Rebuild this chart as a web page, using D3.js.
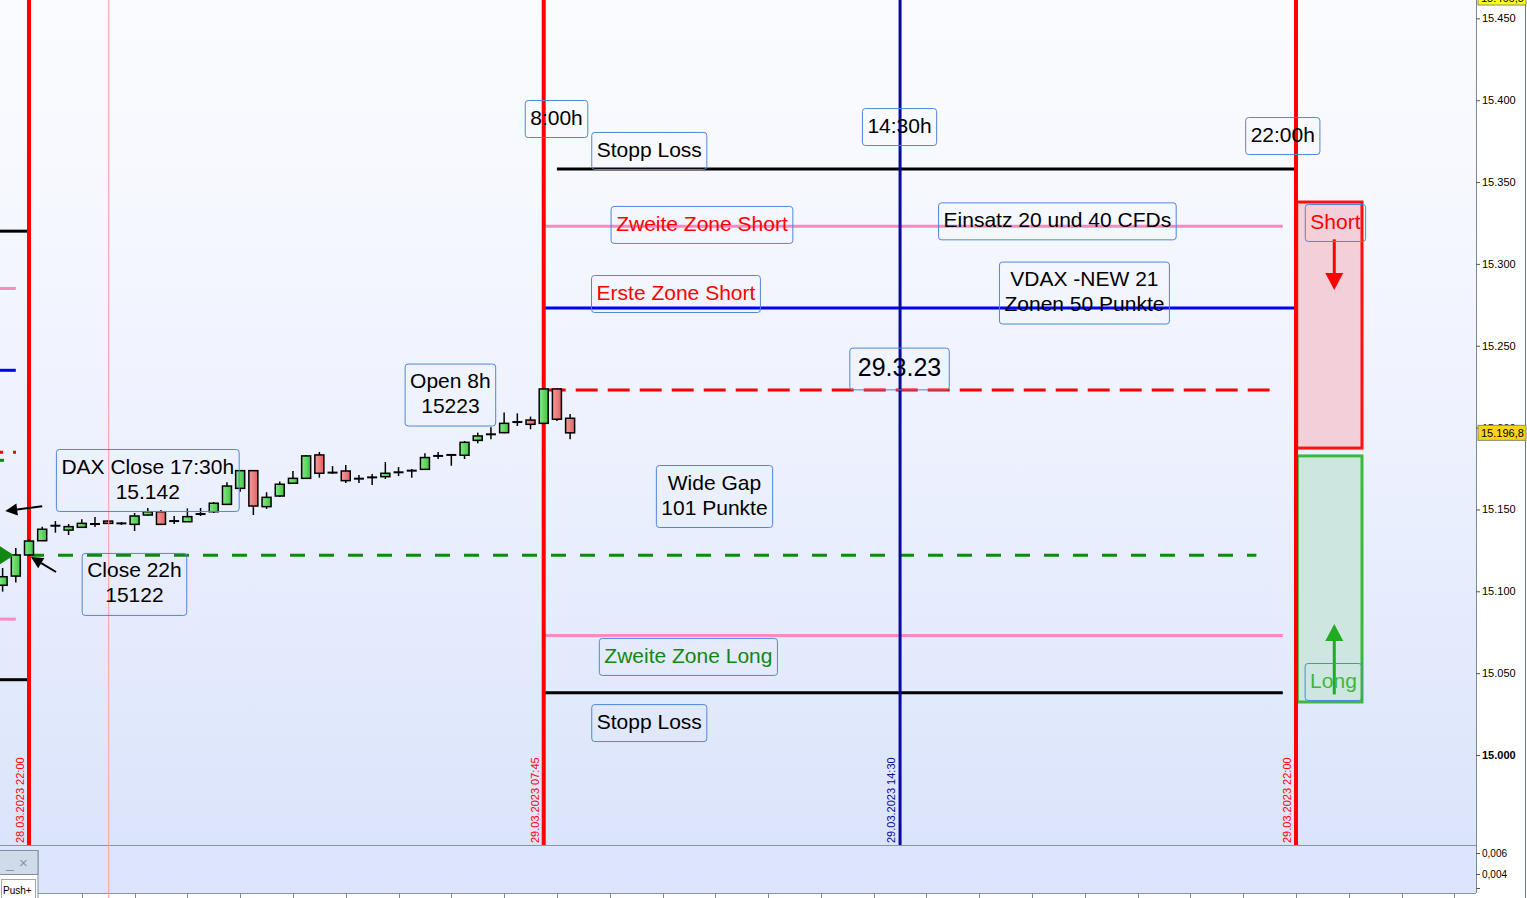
<!DOCTYPE html>
<html><head><meta charset="utf-8">
<script src="https://cdn.jsdelivr.net/npm/d3@7/dist/d3.min.js"></script>
<style>body{margin:0;background:#fff}svg{display:block}text{font-family:Arial,"Liberation Sans",sans-serif}</style>
</head><body><svg id="c" width="1527" height="898"></svg>
<script>
// ---- data ----
// bar index: 0 = 28.03.2023 22:00, 15-minute bars
const barIndex = [-2,-1,0,1,2,3,4,5,6,7,8,9,10,11,12,13,14,15,16,17,18,19,20,21,22,23,24,25,26,27,28,29,30,31,32,33,34,35,36,37,38,39,40,41];
const opens  = [103.7,109.3,122.2,130.9,139.9,137.4,139.1,141.1,142.9,141.5,140.9,146.6,148.6,142.9,142.5,147.2,148.6,153.1,162.9,173.7,151.7,158.2,166.0,169.0,183.3,172.5,173.5,168.8,169.6,170.0,172.7,173.7,174.5,182.7,183.3,183.1,192.2,195.3,196.9,203.4,204.6,202.6,223.6,205.7].map(d=>15000+d);
const highs  = [114.2,126.5,132.0,139.5,142.9,141.1,144.0,145.4,143.6,142.3,147.8,150.9,149.7,146.0,150.7,150.9,154.5,166.6,174.1,174.1,160.5,167.0,173.5,183.3,185.1,176.5,177.2,171.0,171.7,179.0,175.9,174.7,184.3,185.1,183.9,191.8,196.9,200.2,209.3,208.7,206.7,223.6,223.6,208.3].map(d=>15000+d);
const lows   = [99.8,105.3,121.6,130.7,135.8,134.4,138.7,139.3,141.1,140.5,136.8,146.3,140.5,141.1,142.3,146.0,147.8,152.7,160.8,146.6,150.3,157.6,165.5,168.6,169.4,171.7,166.2,166.2,164.9,168.6,170.4,169.4,174.1,180.8,176.7,180.8,190.4,192.9,196.5,201.0,199.0,202.2,204.0,192.9].map(d=>15000+d);
const closes = [108.9,122.2,130.7,137.9,140.2,139.5,141.5,141.1,141.5,141.5,146.0,148.6,140.9,142.9,145.6,147.2,153.8,164.3,173.7,152.1,157.4,165.4,169.0,182.7,172.1,172.5,167.6,168.8,169.6,172.1,172.7,173.7,181.7,182.7,183.3,191.0,194.9,196.5,202.6,203.4,202.0,223.6,205.1,196.8].map(d=>15000+d);

const priceTicks = [15000,15050,15100,15150,15200,15250,15300,15350,15400,15450];
const lastPrice = 15196.8;
const topPrice = 15466.5;

// vertical time markers
const vLines = [
  {i:0,  label:"28.03.2023 22:00", color:"#ff0000"},
  {i:39, label:"29.03.2023 07:45", color:"#ff0000"},
  {i:66, label:"29.03.2023 14:30", color:"#0a0a9a"},
  {i:96, label:"29.03.2023 22:00", color:"#ff0000"}
];
const cursorIndex = 6;

// horizontal levels
const hLevels = [
  {v:15358, from:40, to:96, color:"#000000", dash:null},
  {v:15323, from:39, to:95, color:"#ff88c0", dash:null},
  {v:15273, from:39, to:96, color:"#0000ff", dash:null},
  {v:15223, from:39, to:94, color:"#ff0000", dash:"22,10"},
  {v:15122, from:0,  to:93, color:"#118811", dash:"15,14"},
  {v:15073, from:39, to:95, color:"#ff88c0", dash:null},
  {v:15038, from:39, to:95, color:"#000000", dash:null}
];
// previous-day levels at the left edge
const leftLevels = [
  {v:15320, to:0,    color:"#000000"},
  {v:15285, to:-1,   color:"#ff88c0"},
  {v:15235, to:-1,   color:"#0000ff"},
  {v:15083, to:-1,   color:"#ff88c0"},
  {v:15046, to:0,    color:"#000000"}
];

// zone boxes
const zoneBoxes = [
  {i0:96.05, i1:101, v0:15187.5, v1:15337.8, stroke:"#ff1010", fill:"#f2cfd9"},
  {i0:96.1,  i1:101, v0:15032.4, v1:15182.7, stroke:"#3cb83c", fill:"#cde7e0"}
];
const zoneArrows = [
  {i:98.9, v0:15315, v1:15284, color:"#ff0000"},
  {i:98.9, v0:15037, v1:15080, color:"#22aa22"}
];

// annotation text boxes (anchored to bar index / price)
const notes = [
  {lines:["8:00h"], i:39.97, v:15388.5, color:"#000"},
  {lines:["14:30h"], i:65.96, v:15383.6, color:"#000"},
  {lines:["22:00h"], i:95.0, v:15378.1, color:"#000"},
  {lines:["Stopp Loss"], i:47.0, v:15369.0, color:"#000"},
  {lines:["Zweite Zone Short"], i:50.99, v:15323.8, color:"#ff0000"},
  {lines:["Einsatz 20 und 40 CFDs"], i:77.92, v:15326.0, color:"#000"},
  {lines:["Erste Zone Short"], i:49.02, v:15281.6, color:"#ff0000"},
  {lines:["VDAX -NEW 21","Zonen 50 Punkte"], i:79.97, v:15282.2, color:"#000"},
  {lines:["29.3.23"], i:65.96, v:15235.8, color:"#000", size:25, padX:8},
  {lines:["Open 8h","15223"], i:31.93, v:15219.9, color:"#000"},
  {lines:["DAX Close 17:30h","15.142"], i:9.0, v:15167.7, color:"#000"},
  {lines:["Wide Gap","101 Punkte"], i:51.94, v:15157.9, color:"#000"},
  {lines:["Close 22h","15122"], i:7.99, v:15104.2, color:"#000"},
  {lines:["Zweite Zone Long"], i:49.96, v:15059.9, color:"#118811"},
  {lines:["Stopp Loss"], i:47.0, v:15019.5, color:"#000"},
  {lines:["Short"], i:98.99, v:15325.0, color:"#ff0000"},
  {lines:["Long"], i:98.84, v:15044.6, color:"#3cb83c"}
];
const arrows = [
  {i0:1.0, v0:15152, i1:-1.8, v1:15149},
  {i0:2.05, v0:15111.8, i1:0.15, v1:15121}
];
const lowerTicks = ["0,006","0,004"];

// ---- scales ----
const W=1527, H=898, plotR=1476, plotB=845, lowB=893;
const x = d3.scaleLinear().domain([0,96]).range([29,1296]);
const y = d3.scaleLinear().domain([15000,15450]).range([755,18.35]);
const fmt = d3.formatLocale({decimal:",", thousands:".", grouping:[3], currency:["",""]});
const f0 = fmt.format(",.0f"), f1 = fmt.format(",.1f");

const svg = d3.select("#c");
const defs = svg.append("defs");
const g1 = defs.append("linearGradient").attr("id","bg").attr("x1",0).attr("y1",0).attr("x2",0).attr("y2",1);
[[0,"#fafbff"],[0.18,"#f7f9fe"],[0.5,"#eef2fe"],[1,"#dbe4fb"]].forEach(s=>g1.append("stop").attr("offset",s[0]).attr("stop-color",s[1]));
const gg = defs.append("linearGradient").attr("id","gbody").attr("x1",0).attr("x2",1);
gg.append("stop").attr("offset",0).attr("stop-color","#8ae88a");gg.append("stop").attr("offset",1).attr("stop-color","#3fc63f");
const gr = defs.append("linearGradient").attr("id","rbody").attr("x1",0).attr("x2",1);
gr.append("stop").attr("offset",0).attr("stop-color","#f59a9a");gr.append("stop").attr("offset",1).attr("stop-color","#e06464");
defs.append("clipPath").attr("id","plotclip").append("rect").attr("x",0).attr("y",0).attr("width",plotR).attr("height",plotB);

svg.append("rect").attr("x",0).attr("y",0).attr("width",plotR).attr("height",plotB).attr("fill","url(#bg)");
svg.append("rect").attr("x",0).attr("y",plotB).attr("width",plotR).attr("height",lowB-plotB).attr("fill","#dce5fc");
svg.append("line").attr("x1",0).attr("x2",plotR).attr("y1",plotB+0.5).attr("y2",plotB+0.5).attr("stroke","#8796a6");
svg.append("line").attr("x1",0).attr("x2",plotR).attr("y1",lowB+0.5).attr("y2",lowB+0.5).attr("stroke","#8796a6");

const plot = svg.append("g").attr("clip-path","url(#plotclip)");

// cursor line
svg.append("line").attr("x1",x(cursorIndex)+0.5).attr("x2",x(cursorIndex)+0.5).attr("y1",0).attr("y2",H).attr("stroke","#ff9a9a").attr("stroke-width",1);

// horizontal levels
hLevels.forEach(l=>{
  plot.append("line").attr("x1",x(l.from)).attr("x2",x(l.to)).attr("y1",y(l.v)).attr("y2",y(l.v))
    .attr("stroke",l.color).attr("stroke-width",3).attr("stroke-dasharray",l.dash);
});
leftLevels.forEach(l=>{
  plot.append("line").attr("x1",0).attr("x2",x(l.to)).attr("y1",y(l.v)).attr("y2",y(l.v))
    .attr("stroke",l.color).attr("stroke-width",3);
});
// small remnants at left
plot.append("line").attr("x1",0).attr("x2",18).attr("y1",y(15185)).attr("y2",y(15185)).attr("stroke","#ff0000").attr("stroke-width",3).attr("stroke-dasharray","3,10");
plot.append("line").attr("x1",0).attr("x2",4).attr("y1",y(15180)).attr("y2",y(15180)).attr("stroke","#118811").attr("stroke-width",3);

// zone boxes
zoneBoxes.forEach(b=>{
  plot.append("rect").attr("x",x(b.i0)).attr("y",y(b.v1)).attr("width",x(b.i1)-x(b.i0)).attr("height",y(b.v0)-y(b.v1))
    .attr("fill",b.fill).attr("stroke",b.stroke).attr("stroke-width",3);
});
zoneArrows.forEach(a=>{
  const xa=x(a.i), ya0=y(a.v0), ya1=y(a.v1), dir = ya1>ya0?1:-1;
  plot.append("line").attr("x1",xa).attr("x2",xa).attr("y1",ya0).attr("y2",ya1-dir*16).attr("stroke",a.color).attr("stroke-width",3);
  plot.append("path").attr("d",`M${xa-9},${ya1-dir*17}L${xa+9},${ya1-dir*17}L${xa},${ya1}Z`).attr("fill",a.color);
});

// vertical lines
vLines.forEach(v=>{
  const xv=x(v.i);
  plot.append("line").attr("x1",xv).attr("x2",xv).attr("y1",0).attr("y2",plotB).attr("stroke",v.color).attr("stroke-width",v.color==="#ff0000"?4:3);
  svg.append("text").attr("transform",`translate(${xv-5},${plotB-2}) rotate(-90)`).attr("font-size",11).attr("fill",v.color).text(v.label);
});

// candles
const cw=9;
barIndex.forEach((bi,k)=>{
  const cx=x(bi), o=opens[k], c=closes[k], hi=highs[k], lo=lows[k];
  const gC = plot.append("g");
  gC.append("line").attr("x1",cx).attr("x2",cx).attr("y1",y(hi)).attr("y2",y(lo)).attr("stroke","#000").attr("stroke-width",1.5);
  const top=y(Math.max(o,c)), bot=y(Math.min(o,c));
  if (bot-top < 2) {
    gC.append("line").attr("x1",cx-cw/2-0.5).attr("x2",cx+cw/2+0.5).attr("y1",(top+bot)/2).attr("y2",(top+bot)/2).attr("stroke","#000").attr("stroke-width",2);
  } else {
    gC.append("rect").attr("x",cx-cw/2).attr("y",top).attr("width",cw).attr("height",bot-top)
      .attr("fill", c>=o?"url(#gbody)":"url(#rbody)").attr("stroke","#000").attr("stroke-width",1.5);
  }
});

// green close marker at left edge
plot.append("path").attr("d",`M0,${y(15122)-9}L14,${y(15122)}L0,${y(15122)+9}Z`).attr("fill","#118811");

// black arrows
arrows.forEach(a=>{
  const x0=x(a.i0), y0=y(a.v0), x1=x(a.i1), y1=y(a.v1);
  const ang=Math.atan2(y1-y0,x1-x0), L=12, Wd=6;
  const bx=x1-L*Math.cos(ang), by=y1-L*Math.sin(ang);
  plot.append("line").attr("x1",x0).attr("y1",y0).attr("x2",bx).attr("y2",by).attr("stroke","#000").attr("stroke-width",2);
  plot.append("path").attr("d",`M${x1},${y1}L${bx+Wd*Math.sin(ang)},${by-Wd*Math.cos(ang)}L${bx-Wd*Math.sin(ang)},${by+Wd*Math.cos(ang)}Z`).attr("fill","#000");
});

// annotation boxes
notes.forEach(n=>{
  const fs=n.size||21, lh=fs*1.19, padX=n.padX||5, padY=7;
  const gN = svg.append("g");
  const cx=x(n.i), cy=y(n.v);
  const t = gN.append("text").attr("font-size",fs).attr("fill",n.color).attr("text-anchor","middle");
  const nL=n.lines.length, h0=nL*lh;
  n.lines.forEach((s,j)=>t.append("tspan").attr("x",cx).attr("y",cy-h0/2+lh*j+fs*0.86).text(s));
  const bb=t.node().getBBox();
  const w=bb.width+2*padX, h=h0+2*padY-2;
  gN.insert("rect","text").attr("x",cx-w/2).attr("y",cy-h/2).attr("width",w).attr("height",h).attr("rx",3)
    .attr("fill","none").attr("stroke","#4f86dc").attr("stroke-width",1);
});

// right axis
svg.append("rect").attr("x",plotR).attr("y",0).attr("width",W-plotR).attr("height",H).attr("fill","#fff");
svg.append("line").attr("x1",plotR+0.5).attr("x2",plotR+0.5).attr("y1",0).attr("y2",lowB).attr("stroke","#7a8a9a");
svg.append("line").attr("x1",W-1.5).attr("x2",W-1.5).attr("y1",0).attr("y2",H).attr("stroke","#6a7a8a");
const ax = svg.append("g").attr("transform",`translate(${plotR},0)`)
  .call(d3.axisRight(y).tickValues(priceTicks).tickSize(4).tickPadding(2).tickFormat(f0));
ax.select(".domain").remove();
ax.selectAll("line").attr("stroke","#555");
ax.selectAll("text").attr("font-size",11).attr("fill","#000").attr("font-family","Arial, 'Liberation Sans', sans-serif")
  .attr("font-weight",d=>d===15000?"bold":"normal");

// price labels
function priceLabel(v, yy, fill){
  const gP=svg.append("g");
  gP.append("rect").attr("x",plotR+2).attr("y",yy-7.5).attr("width",48).attr("height",15).attr("fill",fill).attr("stroke","#8a8a6a");
  gP.append("text").attr("x",plotR+5).attr("y",yy+4).attr("font-size",11).attr("fill","#000").text(f1(v));
}
priceLabel(topPrice, -2.5, "#ffff20");
priceLabel(lastPrice, y(lastPrice), "#ffd21a");

// lower panel axis
const ly = d3.scalePoint().domain(lowerTicks).range([853,874]);
const lax = svg.append("g").attr("transform",`translate(${plotR},0)`).call(d3.axisRight(ly).tickSize(4).tickPadding(2));
lax.select(".domain").remove();
lax.selectAll("line").attr("stroke","#555");
lax.selectAll("text").attr("font-size",10).attr("fill","#000");
svg.append("line").attr("x1",plotR).attr("x2",plotR+4).attr("y1",888.5).attr("y2",888.5).attr("stroke","#555");

// bottom ticks every hour
const hourTicks = d3.range(-4, 112, 4).filter(i=>x(i)>40 && x(i)<plotR);
svg.selectAll(".bt").data(hourTicks).join("line").attr("x1",d=>Math.round(x(d))+0.5).attr("x2",d=>Math.round(x(d))+0.5)
  .attr("y1",lowB).attr("y2",H).attr("stroke","#7a8a9a");

// small panel widget bottom-left
const wg = svg.append("g");
wg.append("rect").attr("x",-2).attr("y",850.5).attr("width",40).attr("height",50).attr("fill","#fff").attr("stroke","#7f8f9f");
wg.append("rect").attr("x",-2).attr("y",850.5).attr("width",40).attr("height",24).attr("fill","#cfdbe8").attr("stroke","#7f8f9f");
wg.append("text").attr("x",6).attr("y",868).attr("font-size",14).attr("fill","#8a97a3").text("_");
wg.append("text").attr("x",19).attr("y",868).attr("font-size",15).attr("fill","#8a97a3").text("×");
wg.append("rect").attr("x",1.5).attr("y",879.5).attr("width",34).attr("height",20).attr("fill","#fff").attr("stroke","#9aa6b2");
wg.append("text").attr("x",3).attr("y",894).attr("font-size",10).attr("fill","#000").text("Push+");
</script></body></html>
